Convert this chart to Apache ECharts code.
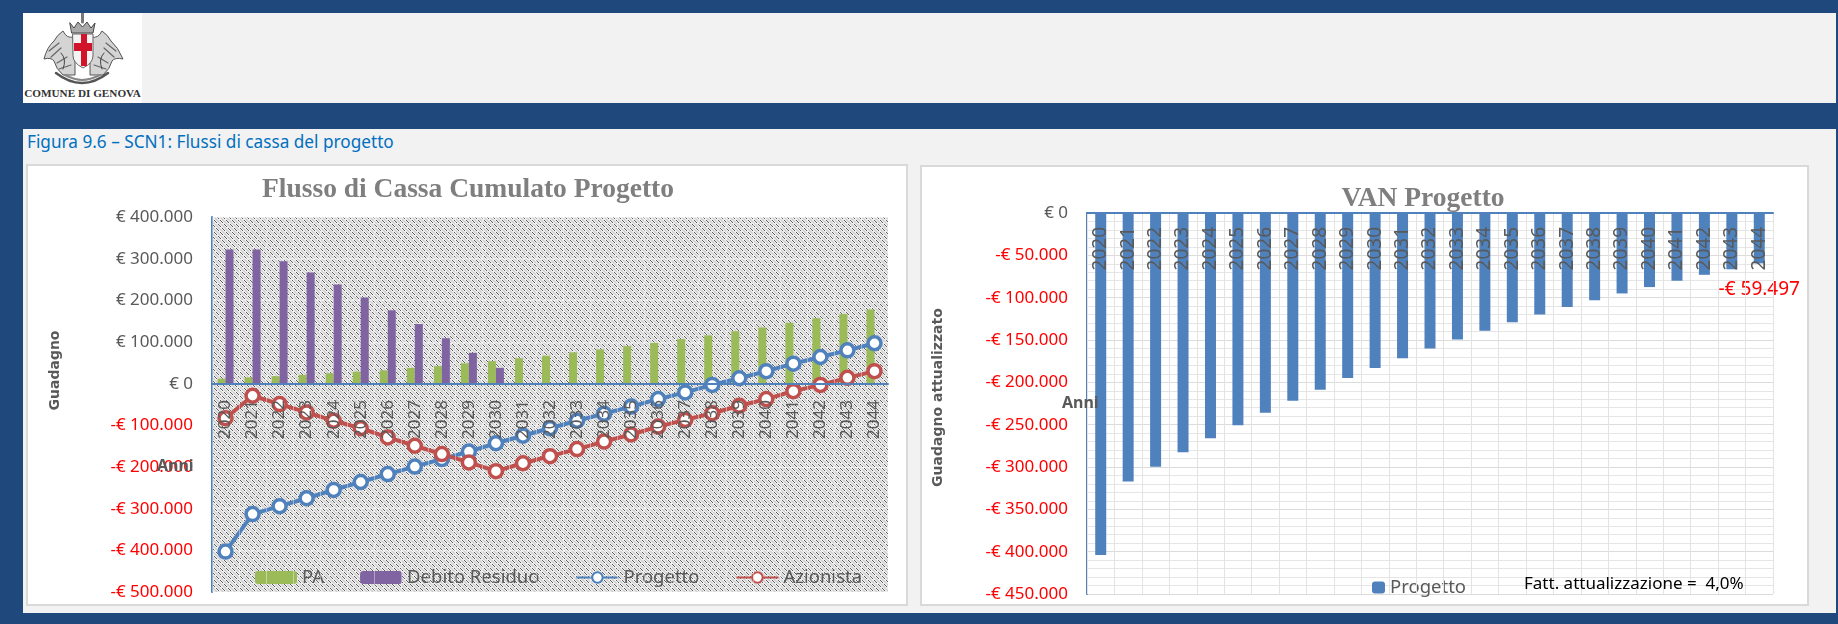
<!DOCTYPE html>
<html>
<head>
<meta charset="utf-8">
<title>Figura 9.6</title>
<script src="https://cdn.jsdelivr.net/npm/echarts@6/dist/echarts.min.js"></script>
<style>
  html, body { margin: 0; padding: 0; width: 1838px; height: 624px; overflow: hidden; background: #1f497d; font-family: "Noto Sans", sans-serif; }
  .panel { position: absolute; left: 23px; width: 1813px; background: #f2f2f2; }
  #logo { position: absolute; left: 23px; top: 13px; width: 119px; height: 90px; background: #fff; }
  #logo svg { position: absolute; left: 0; top: 0; }
  #logo span { position: absolute; left: 0; width: 119px; top: 74px; text-align: center; font: bold 11.2px "Liberation Serif", serif; color: #333; white-space: nowrap; }
  #caption { position: absolute; left: 27px; top: 130px; font-size: 17.2px; line-height: 24px; color: #0070c0; }
  .card { position: absolute; background: #fff; box-sizing: border-box; border: 2px solid #d9d9d9; }
  .chart { position: absolute; }
</style>
</head>
<body>
<div class="panel" style="top:13px;height:90px"></div>
<div class="panel" style="top:129px;height:484px"></div>
<div id="logo">
  <svg width="119" height="72" viewBox="0 0 119 72" fill="none" stroke-linecap="round">
    <!-- grifoni -->
    <path d="M50,24 Q44,26 40,18 Q34,22 31,28 Q24,34 21,46 Q28,44 31,48 Q33,56 40,62 L52,62 L52,44 Z" fill="#d4d4d4" stroke="#555" stroke-width="1"/>
    <path d="M69,24 Q75,26 79,18 Q85,22 88,28 Q95,34 100,46 Q92,44 89,48 Q87,56 80,62 L67,62 L67,44 Z" fill="#d4d4d4" stroke="#555" stroke-width="1"/>
    <path d="M26,38 L36,30 M28,44 L38,35 M34,50 L44,44 M36,56 L48,52 M93,38 L83,30 M91,44 L81,35 M85,50 L75,44 M83,56 L71,52" stroke="#666" stroke-width="1.2"/>
    <path d="M38,40 Q44,46 40,56 M81,40 Q75,46 79,56" stroke="#444" stroke-width="1"/>
    <!-- base -->
    <path d="M33,60 Q46,70 59,70 Q72,70 85,60" stroke="#555" stroke-width="2.5"/>
    <path d="M42,62 Q52,67 59,67 Q67,67 77,62" stroke="#888" stroke-width="2"/>
    <!-- corona -->
    <path d="M47,10 L51,15 L55,9 L59.5,14 L64,9 L68,15 L72,10 L70,20 L49,20 Z" fill="#aaa" stroke="#444" stroke-width="1"/>
    <path d="M59.5,0 V9" stroke="#777" stroke-width="3"/>
    <!-- scudo -->
    <path d="M50,21 H70 V43 Q70,50 60,55 Q50,50 50,43 Z" fill="#f4f4f4" stroke="#666" stroke-width="1"/>
    <rect x="58" y="21" width="6" height="32" fill="#d2142b"/>
    <rect x="51" y="30" width="18" height="8" fill="#d2142b"/>
  </svg>
  <span>COMUNE DI GENOVA</span>
</div>
<div id="caption">Figura 9.6 – SCN1: Flussi di cassa del progetto</div>
<div class="card" style="left:26px;top:164px;width:882px;height:442px"></div>
<div class="card" style="left:920px;top:165px;width:889px;height:441px"></div>
<div id="flussoChart" class="chart" style="left:26px;top:164px;width:882px;height:442px"></div>
<div id="vanChart" class="chart" style="left:920px;top:165px;width:889px;height:441px"></div>

<script>
const anni = ["2020","2021","2022","2023","2024","2025","2026","2027","2028","2029","2030","2031","2032","2033","2034","2035","2036","2037","2038","2039","2040","2041","2042","2043","2044"];

// Flusso di cassa cumulato
const pa = [12000,15000,18000,21000,25000,29000,32000,38000,42000,49000,54000,61000,67000,75000,82000,90000,98000,107000,116000,126000,135000,146000,157000,167000,178000];
const debitoResiduo = [322000,322000,294000,267000,238000,207000,176000,143000,109000,74000,38000,0,0,0,0,0,0,0,0,0,0,0,0,0,0];
const progetto = [-403000,-313000,-294000,-275000,-255000,-236000,-217000,-199000,-181000,-163000,-143000,-125000,-107000,-89000,-72000,-55000,-37000,-21000,-3000,13000,30000,48000,64000,80000,97000];
const azionista = [-83000,-29000,-49000,-69000,-89000,-107000,-129000,-149000,-169000,-189000,-210000,-191000,-174000,-157000,-139000,-122000,-103000,-87000,-71000,-53000,-37000,-18000,-3000,14000,30000];

// VAN progetto
const vanProgetto = [-404000,-317000,-299600,-282700,-266000,-250800,-235800,-221700,-208700,-195000,-183000,-171500,-160000,-149500,-139000,-129000,-120000,-111000,-103000,-95000,-87500,-80000,-73000,-66500,-59497];

const GRIGIO = "#595959";
const FONT = "Noto Sans";

function formatEuro(v) {
  const s = String(Math.abs(v)).replace(/\B(?=(\d{3})+$)/g, ".");
  return (v < 0 ? "-" : "") + "€ " + s;
}

function coloreTick(v) {
  return v < 0 ? "#ff0000" : GRIGIO;
}

// tratteggio dello sfondo del grafico di sinistra
function creaTratteggio() {
  const size = 12;
  const c = document.createElement("canvas");
  c.width = size;
  c.height = size;
  const ctx = c.getContext("2d");
  ctx.fillStyle = "#f4f4f4";
  ctx.fillRect(0, 0, size, size);
  for (let i = -size; i <= size * 2; i += 6) {
    ctx.strokeStyle = "#cccccc";
    ctx.lineWidth = 1.5;
    ctx.beginPath();
    ctx.moveTo(i + 3, 0);
    ctx.lineTo(i + 3 + size, size);
    ctx.stroke();
    ctx.strokeStyle = "#4a4a4a";
    ctx.lineWidth = 0.9;
    ctx.setLineDash([4.4, 1.26]);
    ctx.beginPath();
    ctx.moveTo(i, 0);
    ctx.lineTo(i + size, size);
    ctx.stroke();
    ctx.setLineDash([]);
  }
  return { image: c, repeat: "repeat" };
}

function serieLinea(name, data, color) {
  return {
    name: name,
    type: "line",
    data: data,
    symbol: "circle",
    symbolSize: 13,
    showAllSymbol: true,
    lineStyle: { color: color, width: 4 },
    itemStyle: { color: "#fff", borderColor: color, borderWidth: 3.5 }
  };
}

let flussoChart = echarts.init(document.getElementById("flussoChart"));
flussoChart.setOption({
  animation: false,
  title: {
    text: "Flusso di Cassa Cumulato Progetto",
    left: 437,
    top: 7,
    textAlign: "center",
    textStyle: { fontFamily: "Liberation Serif", fontSize: 27.5, fontWeight: "bold", color: "#7f7f7f" }
  },
  legend: {
    left: 229,
    top: 404,
    padding: 0,
    itemWidth: 42,
    itemHeight: 13,
    itemGap: 36,
    textStyle: { fontFamily: FONT, fontSize: 18.5, color: GRIGIO },
    data: ["PA", "Debito Residuo", "Progetto", "Azionista"]
  },
  grid: {
    left: 186,
    right: 20,
    top: 53,
    bottom: 14,
    outerBoundsMode: "none",
    show: true,
    borderWidth: 0,
    backgroundColor: creaTratteggio()
  },
  xAxis: {
    type: "category",
    data: anni,
    z: 10,
    axisLine: { lineStyle: { color: "#4f81bd", width: 2 } },
    axisTick: { show: false },
    axisLabel: { interval: 0, rotate: 90, margin: -192, fontFamily: FONT, fontSize: 17, color: GRIGIO },
    splitLine: { show: true, interval: 0, lineStyle: { color: "rgba(255,255,255,0.4)" } }
  },
  yAxis: {
    type: "value",
    min: -500000,
    max: 400000,
    interval: 100000,
    name: "Guadagno",
    nameLocation: "middle",
    nameGap: 150,
    nameRotate: 90,
    nameMoveOverlap: false,
    nameTextStyle: { fontFamily: "DejaVu Sans", fontSize: 14, fontWeight: "bold", color: GRIGIO, padding: [0, 0, 0, 68] },
    axisLine: { show: true, lineStyle: { color: "#4f81bd", width: 2 } },
    axisTick: { show: false },
    axisLabel: { margin: 19, fontFamily: FONT, fontSize: 17, color: coloreTick, formatter: formatEuro },
    splitLine: { lineStyle: { color: "rgba(255,255,255,0.5)" } }
  },
  graphic: [
    {
      type: "text",
      left: 131,
      top: 294,
      z: 20,
      style: { text: "Anni", fontFamily: FONT, fontSize: 16, fontWeight: "bold", fill: GRIGIO }
    }
  ],
  series: [
    { name: "PA", type: "bar", data: pa, barWidth: 8, barGap: "0%", itemStyle: { color: "#9bbb59" } },
    { name: "Debito Residuo", type: "bar", data: debitoResiduo, barWidth: 8, barGap: "0%", itemStyle: { color: "#8064a2" } },
    serieLinea("Progetto", progetto, "#4f81bd"),
    serieLinea("Azionista", azionista, "#c0504d")
  ]
});

let vanChart = echarts.init(document.getElementById("vanChart"));
vanChart.setOption({
  animation: false,
  title: {
    text: "VAN Progetto",
    left: 498,
    top: 15,
    textAlign: "center",
    textStyle: { fontFamily: "Liberation Serif", fontSize: 27.5, fontWeight: "bold", color: "#7f7f7f" }
  },
  legend: {
    left: 452,
    top: 413,
    padding: 0,
    itemWidth: 13,
    itemHeight: 12,
    textStyle: { fontFamily: FONT, fontSize: 18.5, color: GRIGIO },
    data: ["Progetto"]
  },
  grid: { left: 167, right: 36, top: 48, bottom: 12, outerBoundsMode: "none" },
  xAxis: {
    type: "category",
    position: "top",
    data: anni,
    z: 10,
    axisLine: { lineStyle: { color: "#4f81bd", width: 2 } },
    axisTick: { show: false },
    axisLabel: { interval: 0, rotate: 90, inside: true, margin: 14, fontFamily: FONT, fontSize: 19, color: GRIGIO },
    splitLine: { show: true, interval: 0, lineStyle: { color: "#e3e3e3" } }
  },
  yAxis: {
    type: "value",
    min: -450000,
    max: 0,
    interval: 50000,
    name: "Guadagno attualizzato",
    nameLocation: "middle",
    nameGap: 142,
    nameRotate: 90,
    nameMoveOverlap: false,
    nameTextStyle: { fontFamily: "DejaVu Sans", fontSize: 14, fontWeight: "bold", color: GRIGIO, padding: [0, 0, 0, 12] },
    axisLine: { show: true, lineStyle: { color: "#4f81bd", width: 2 } },
    axisTick: { show: false },
    minorTick: { show: false, splitNumber: 5 },
    axisLabel: { margin: 19, fontFamily: FONT, fontSize: 17, color: coloreTick, formatter: formatEuro },
    splitLine: { lineStyle: { color: "#dcdcdc" } },
    minorSplitLine: { show: true, lineStyle: { color: "#e6e6e6" } }
  },
  graphic: [
    {
      type: "text",
      left: 604,
      top: 411,
      z: 20,
      style: { text: "Fatt. attualizzazione =  4,0%", fontFamily: FONT, fontSize: 17, fill: "#000" }
    },
    {
      type: "text",
      left: 142,
      top: 230,
      z: 20,
      style: { text: "Anni", fontFamily: FONT, fontSize: 16, fontWeight: "bold", fill: GRIGIO }
    }
  ],
  series: [
    {
      name: "Progetto",
      type: "bar",
      barWidth: 11,
      itemStyle: { color: "#4f81bd" },
      data: vanProgetto.map((v, i) => i === vanProgetto.length - 1
        ? { value: v, label: { show: true, position: "bottom", distance: 17, fontFamily: FONT, fontSize: 19, color: "#ff0000", formatter: p => formatEuro(p.value) } }
        : v)
    }
  ]
});
</script>
</body>
</html>
